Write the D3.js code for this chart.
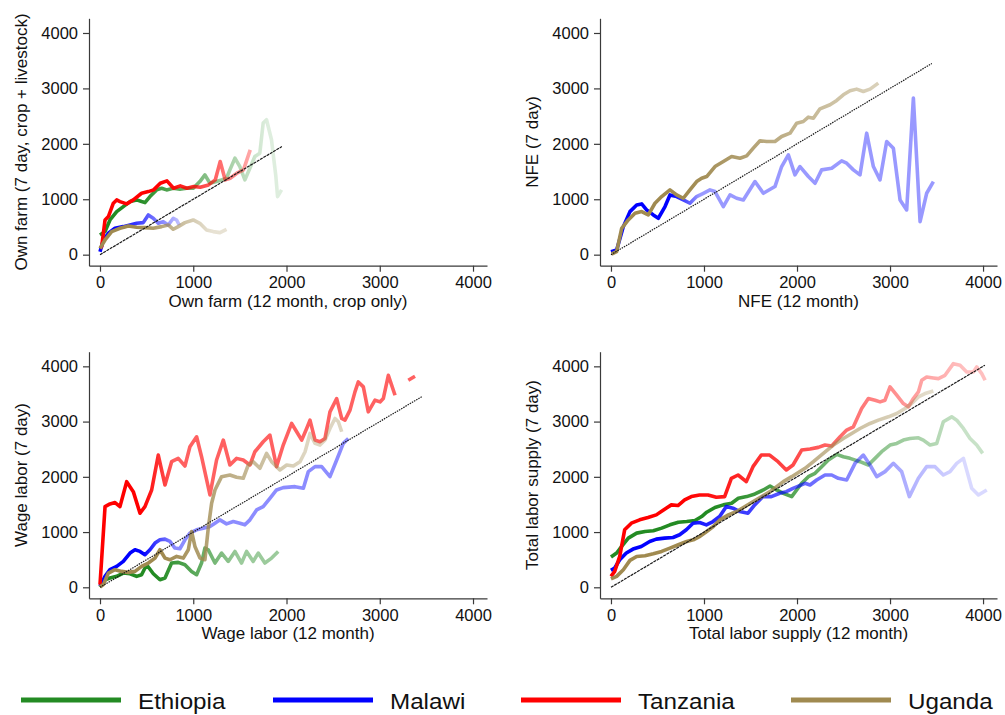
<!DOCTYPE html>
<html>
<head>
<meta charset="utf-8">
<script src="https://cdn.jsdelivr.net/npm/d3@7"></script>
<style>
body { margin: 0; background: #fff; }
svg { display: block; font-family: "Liberation Sans", Arial, sans-serif; }
</style>
</head>
<body>
<svg id="chart" width="1005" height="715"></svg>
<script>
var countries = ["Ethiopia", "Malawi", "Tanzania", "Uganda"];
var tickValues = [0, 1000, 2000, 3000, 4000];
var diagEnds = [1950, 3450, 3450, 4020];

// own farm: [12 month, 7 day]
var ownEth = [[0,356],[54,416],[107,626],[179,777],[250,867],[322,958],[393,988],[446,958],[482,940],[536,1048],[607,1169],[661,1199],[714,1169],[786,1199],[857,1181],[929,1199],[1000,1199],[1071,1319],[1125,1440],[1179,1289],[1250,1319],[1304,1349],[1357,1379],[1393,1530],[1447,1741],[1500,1590],[1554,1349],[1607,1560],[1661,1771],[1714,1832],[1750,2374],[1786,2435],[1839,2073],[1886,1410],[1904,1048],[1947,1169]];
var ownMal = [[0,54],[36,265],[90,386],[161,476],[250,506],[322,536],[393,566],[464,578],[518,717],[571,657],[625,566],[679,596],[732,536],[786,657],[822,626],[850,536]];
var ownTan = [[0,120],[18,145],[54,626],[90,687],[143,928],[179,988],[214,958],[286,916],[357,988],[446,1108],[518,1138],[575,1169],[646,1289],[718,1331],[789,1199],[861,1241],[932,1199],[1004,1229],[1075,1217],[1164,1259],[1236,1349],[1289,1681],[1343,1349],[1396,1379],[1468,1470],[1539,1530],[1611,1892]];
var ownUga = [[0,114],[54,265],[125,416],[214,476],[304,518],[393,494],[482,488],[571,476],[661,506],[732,536],[786,458],[839,506],[911,578],[1000,626],[1071,566],[1143,446],[1214,416],[1286,398],[1357,458]];

// NFE
var nfeMal = [[0,54],[61,84],[133,506],[204,777],[276,898],[330,916],[383,808],[455,717],[509,657],[581,868],[634,1078],[706,1048],[778,988],[849,928],[921,1048],[993,1108],[1064,1169],[1118,1139],[1208,868],[1280,1078],[1351,1018],[1423,988],[1548,1319],[1638,1108],[1763,1229],[1835,1590],[1907,1801],[1978,1440],[2032,1590],[2122,1410],[2194,1289],[2265,1530],[2373,1560],[2480,1692],[2534,1650],[2606,1530],[2677,1440],[2749,2192],[2821,1590],[2892,1349],[2964,2043],[3036,1922],[3108,988],[3179,807],[3251,2825],[3323,596],[3394,1108],[3466,1319]];
var nfeUga = [[7,12],[61,54],[115,476],[186,627],[258,747],[330,777],[401,717],[473,928],[545,1048],[634,1169],[706,1078],[778,1018],[849,1169],[921,1319],[975,1379],[1029,1410],[1118,1590],[1208,1680],[1297,1771],[1387,1741],[1459,1783],[1530,1922],[1602,2054],[1674,2043],[1763,2043],[1835,2133],[1925,2192],[1996,2373],[2068,2403],[2122,2481],[2176,2463],[2247,2632],[2355,2705],[2427,2783],[2498,2885],[2570,2957],[2641,2987],[2713,2945],[2785,2987],[2874,3096]];

// wage labor
var wageEth = [[0,7],[54,137],[107,168],[179,198],[250,258],[322,246],[393,198],[446,228],[500,409],[572,246],[643,137],[697,168],[768,439],[839,451],[911,409],[982,288],[1036,228],[1089,439],[1125,710],[1161,680],[1233,439],[1304,620],[1375,469],[1447,650],[1518,439],[1572,650],[1643,469],[1697,620],[1768,439],[1840,529],[1911,650]];
var wageMal = [[0,19],[54,198],[107,319],[179,379],[250,469],[322,620],[375,680],[429,650],[482,590],[536,680],[590,800],[643,860],[697,872],[750,830],[804,710],[857,698],[911,860],[964,981],[1036,1041],[1107,1071],[1179,1101],[1233,1161],[1286,1221],[1357,1149],[1429,1191],[1500,1161],[1554,1131],[1608,1221],[1679,1401],[1750,1461],[1822,1612],[1893,1762],[1965,1804],[2091,1822],[2181,1793],[2234,2094],[2306,2184],[2377,2184],[2466,2003],[2538,2304],[2609,2605],[2663,2695]];
var wageTan = [[0,49],[54,1461],[107,1510],[161,1534],[214,1461],[286,1912],[357,1732],[429,1341],[482,1461],[554,1762],[625,2394],[697,1852],[768,2274],[839,2334],[911,2196],[964,2545],[1036,2725],[1089,2364],[1179,1672],[1250,2304],[1322,2665],[1393,2214],[1465,2334],[1536,2304],[1608,2214],[1661,2454],[1750,2635],[1822,2755],[1893,2184],[1965,2575],[2055,2966],[2109,2815],[2163,2665],[2216,2875],[2252,3026],[2306,2665],[2359,2635],[2413,2695],[2466,3176],[2538,3416],[2592,3056],[2627,3026],[2681,3207],[2734,3538],[2770,3718],[2824,3628],[2877,3176],[2949,3387],[3003,3357],[3038,3416],[3092,3837],[3164,3477],null,[3306,3748],[3378,3820]];
var wageUga = [[0,7],[36,49],[90,258],[161,319],[232,288],[304,270],[375,288],[446,379],[518,439],[590,529],[643,680],[697,529],[750,499],[822,559],[893,529],[947,680],[982,1011],[1018,740],[1072,529],[1125,499],[1161,1071],[1197,1522],[1233,1762],[1304,2003],[1393,2033],[1465,1991],[1536,1973],[1590,2214],[1643,2274],[1715,2154],[1786,2424],[1840,2274],[1929,2124],[2002,2214],[2073,2196],[2145,2274],[2199,2455],[2252,2785],[2306,2605],[2359,2575],[2413,2665],[2466,2875],[2520,3056],[2556,2996],[2592,2815]];

// total labor supply
var totEth = [[0,548],[61,620],[115,740],[186,890],[276,981],[366,1011],[455,1023],[545,1071],[634,1131],[724,1179],[814,1191],[903,1209],[975,1281],[1029,1359],[1118,1444],[1208,1492],[1297,1522],[1369,1612],[1459,1642],[1548,1690],[1638,1762],[1710,1834],[1781,1762],[1853,1702],[1943,1642],[2050,1883],[2122,2003],[2194,2063],[2265,2184],[2337,2304],[2427,2406],[2498,2364],[2570,2334],[2677,2274],[2767,2214],[2839,2334],[2910,2455],[3000,2575],[3072,2605],[3143,2665],[3215,2695],[3305,2707],[3358,2665],[3430,2575],[3502,2605],[3573,2996],[3663,3086],[3717,3026],[3789,2875],[3860,2695],[3932,2575],[3996,2424]];
var totMal = [[0,307],[40,349],[94,499],[165,620],[237,692],[326,740],[416,830],[487,872],[577,890],[667,902],[738,951],[810,1041],[882,1161],[953,1173],[1025,1131],[1097,1191],[1168,1281],[1240,1462],[1312,1432],[1384,1372],[1473,1342],[1545,1492],[1634,1642],[1724,1642],[1814,1702],[1885,1732],[1957,1792],[2086,1883],[2140,1853],[2211,1943],[2301,2033],[2373,2033],[2444,1973],[2534,1943],[2624,2244],[2713,2394],[2785,2214],[2857,2003],[2946,2094],[3036,2244],[3125,2094],[3208,1642],[3305,1973],[3394,2184],[3484,2184],[3573,2033],[3645,2094],[3717,2244],[3789,2334],[3878,1792],[3950,1672],[4040,1762]];
var totTan = [[0,198],[40,288],[94,559],[147,1041],[219,1161],[308,1221],[398,1263],[487,1311],[577,1414],[649,1492],[720,1480],[792,1582],[864,1642],[953,1672],[1043,1672],[1133,1630],[1222,1642],[1294,1973],[1366,2033],[1455,1913],[1527,2184],[1616,2394],[1706,2394],[1796,2274],[1885,2124],[1957,2214],[2050,2485],[2140,2503],[2229,2533],[2301,2575],[2373,2557],[2463,2726],[2534,2846],[2606,2906],[2695,3237],[2767,3417],[2839,3387],[2893,3357],[2946,3387],[3000,3628],[3072,3477],[3143,3327],[3197,3267],[3251,3417],[3305,3537],[3341,3748],[3394,3808],[3466,3790],[3520,3778],[3591,3838],[3681,4049],[3753,4019],[3824,3898],[3896,3898],[3932,3989],[3986,3868],[4022,3748]];
var totUga = [[0,151],[61,198],[133,319],[204,487],[276,559],[366,571],[455,607],[545,650],[634,710],[724,770],[814,830],[885,860],[957,921],[1029,1011],[1100,1101],[1172,1221],[1262,1311],[1351,1372],[1441,1462],[1530,1552],[1620,1642],[1710,1732],[1781,1822],[1853,1913],[1943,2003],[2086,2154],[2176,2274],[2283,2424],[2391,2575],[2498,2695],[2588,2785],[2677,2875],[2785,2966],[2875,3026],[2982,3086],[3072,3146],[3161,3237],[3233,3327],[3305,3447],[3376,3507],[3466,3555]];

var colors = {Ethiopia: "#238b23", Malawi: "#0000ff", Tanzania: "#ff0000", Uganda: "#a08a50"};

// panel layout; fade = [x where fading starts, x where it ends, last opacity]
var panels = [
    {left: 89, right: 487, top: 18.3, bottom: 265.7,
     xTitle: "Own farm (12 month, crop only)", yTitle: "Own farm (7 day, crop + livestock)",
     series: {Ethiopia: ownEth, Malawi: ownMal, Tanzania: ownTan, Uganda: ownUga},
     fade: {Ethiopia: [400, 1800, 0.15], Malawi: [200, 850, 0.25], Tanzania: [700, 1600, 0.35], Uganda: [400, 1200, 0.25]},
     dash: "3,0.8"},
    {left: 600, right: 997, top: 18.3, bottom: 265.7,
     xTitle: "NFE (12 month)", yTitle: "NFE (7 day)",
     series: {Malawi: nfeMal, Uganda: nfeUga},
     fade: {Malawi: [650, 950, 0.4], Uganda: [800, 2800, 0.4]},
     dash: "1.5,1"},
    {left: 89, right: 487, top: 351.7, bottom: 598.3,
     xTitle: "Wage labor (12 month)", yTitle: "Wage labor (7 day)",
     series: {Ethiopia: wageEth, Malawi: wageMal, Tanzania: wageTan, Uganda: wageUga},
     fade: {Ethiopia: [600, 1500, 0.45], Malawi: [450, 800, 0.45], Tanzania: [450, 800, 0.62], Uganda: [650, 2200, 0.35]},
     dash: "1.5,1"},
    {left: 600, right: 997, top: 351.7, bottom: 598.3,
     xTitle: "Total labor supply (12 month)", yTitle: "Total labor supply (7 day)",
     series: {Ethiopia: totEth, Malawi: totMal, Tanzania: totTan, Uganda: totUga},
     fade: {Ethiopia: [1100, 3800, 0.25], Malawi: [550, 3800, 0.15], Tanzania: [800, 3800, 0.25], Uganda: [1000, 3400, 0.3]},
     dash: "3,0.8"}
];

var svg = d3.select("#chart");
var defs = svg.append("defs");

panels.forEach(function(p, pi) {
    var xScale = d3.scaleLinear().domain([-118, 4150]).range([p.left, p.right]);
    var yScale = d3.scaleLinear().domain([-199, 4265]).range([p.bottom, p.top]);
    var g = svg.append("g");

    var line = d3.line()
        .defined(function(d) { return d !== null; })
        .x(function(d) { return xScale(d[0]); })
        .y(function(d) { return yScale(d[1]); });

    countries.forEach(function(c, ci) {
        var data = p.series[c];
        if (!data) return;
        var f = p.fade[c];
        var gid = "fade" + pi + "_" + ci;
        var grad = defs.append("linearGradient")
            .attr("id", gid)
            .attr("gradientUnits", "userSpaceOnUse")
            .attr("x1", xScale(f[0])).attr("x2", xScale(f[1]))
            .attr("y1", 0).attr("y2", 0);
        grad.append("stop").attr("offset", 0).attr("stop-color", colors[c]).attr("stop-opacity", 1);
        grad.append("stop").attr("offset", 1).attr("stop-color", colors[c]).attr("stop-opacity", f[2]);

        g.append("path")
            .datum(data)
            .attr("d", line)
            .attr("fill", "none")
            .attr("stroke", "url(#" + gid + ")")
            .attr("stroke-width", 3.6)
            .attr("stroke-linejoin", "round");
    });

    g.append("path")
        .datum([[0, 0], [diagEnds[pi], diagEnds[pi]]])
        .attr("d", line)
        .attr("fill", "none")
        .attr("stroke", "#1a1a1a")
        .attr("stroke-width", 1.2)
        .attr("stroke-dasharray", p.dash);

    var xAxis = d3.axisBottom(xScale).tickValues(tickValues).tickFormat(d3.format("d"))
        .tickSize(6).tickSizeOuter(0).tickPadding(4.8);
    var yAxis = d3.axisLeft(yScale).tickValues(tickValues).tickFormat(d3.format("d"))
        .tickSize(6).tickSizeOuter(0).tickPadding(5);

    var gx = g.append("g")
        .attr("transform", "translate(0," + p.bottom + ")")
        .call(xAxis);
    var gy = g.append("g")
        .attr("transform", "translate(" + p.left + ",0)")
        .call(yAxis);

    [gx, gy].forEach(function(a) {
        a.selectAll("path, line").attr("stroke", "#3a3a3a").attr("stroke-width", 1.2);
        a.selectAll("text").attr("fill", "#111").attr("font-size", 16.5)
            .attr("font-family", "'Liberation Sans', Arial, sans-serif");
    });

    g.append("text")
        .attr("x", (p.left + p.right) / 2)
        .attr("y", p.bottom + 41)
        .attr("text-anchor", "middle")
        .attr("font-size", 17)
        .attr("fill", "#111")
        .text(p.xTitle);

    g.append("text")
        .attr("transform", "translate(" + (p.left - 62) + "," + ((p.top + p.bottom) / 2) + ") rotate(-90)")
        .attr("text-anchor", "middle")
        .attr("font-size", 17)
        .attr("fill", "#111")
        .text(p.yTitle);
});

// legend
var legendX = [21, 273, 521, 791];
var legend = svg.append("g").attr("transform", "translate(0,700)");
countries.forEach(function(c, i) {
    legend.append("line")
        .attr("x1", legendX[i]).attr("x2", legendX[i] + 100)
        .attr("y1", 0).attr("y2", 0)
        .attr("stroke", colors[c])
        .attr("stroke-width", 5);
    legend.append("text")
        .attr("transform", "translate(" + (legendX[i] + 117) + ",8.5) scale(1.1,1)")
        .attr("font-size", 22)
        .attr("fill", "#111")
        .text(c);
});
</script>
</body>
</html>
